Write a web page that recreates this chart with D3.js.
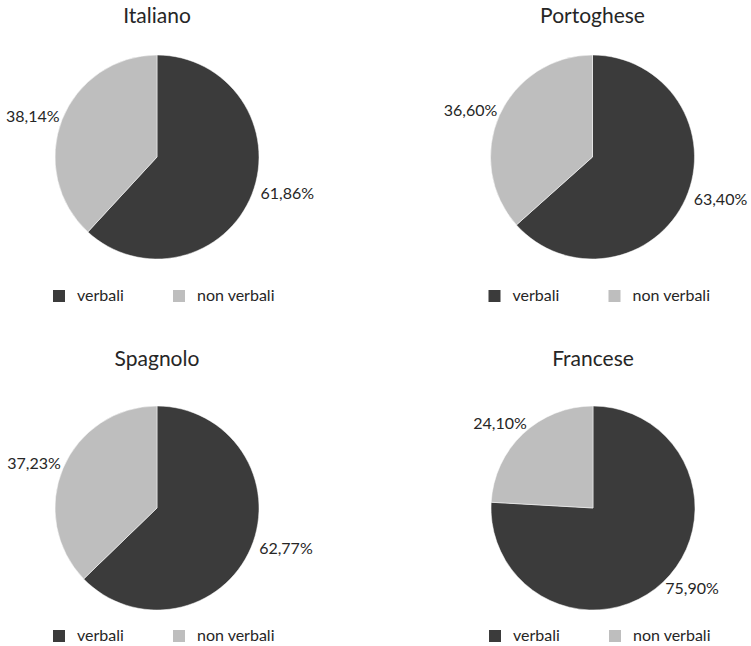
<!DOCTYPE html>
<html>
<head>
<meta charset="utf-8">
<script src="https://cdn.jsdelivr.net/npm/d3@7"></script>
<style>
  html, body { margin: 0; padding: 0; background: #fff; }
  svg { display: block; }
  text { font-family: Lato, "Open Sans", sans-serif; fill: #262626; }
</style>
</head>
<body>
<div id="chart"></div>
<script>
// ---- data ----
const languages = ["Italiano", "Portoghese", "Spagnolo", "Francese"];
const categories = ["verbali", "non verbali"];
const verbali    = [61.86, 63.40, 62.77, 75.90];
const nonVerbali = [38.14, 36.60, 37.23, 24.10];
const colors = ["#3b3b3b", "#bebebe"];

const W = 751, H = 646;
const svg = d3.select("#chart").append("svg").attr("width", W).attr("height", H);

const fmt = v => d3.format(".2f")(v).replace(".", ",") + "%";

// panel layout: pie centre, title baseline offset, legend offset
const panels = [
  {cx: 157,   cy: 157, titleDy: -134, legendDy: 133},
  {cx: 592.5, cy: 157, titleDy: -134, legendDy: 133},
  {cx: 157,   cy: 508, titleDy: -142, legendDy: 122},
  {cx: 593,   cy: 508, titleDy: -142, legendDy: 122}
];
const R = 102;

const color = d3.scaleOrdinal().domain(categories).range(colors);
const pie = d3.pie().sort(null).value(d => d.value);
const arc = d3.arc().innerRadius(0).outerRadius(R);

languages.forEach((lang, i) => {
  const data = [
    {cat: categories[0], value: verbali[i]},
    {cat: categories[1], value: nonVerbali[i]}
  ];
  const p = panels[i];
  const g = svg.append("g").attr("transform", `translate(${p.cx},${p.cy})`);

  // title
  g.append("text")
    .attr("x", 0).attr("y", p.titleDy)
    .attr("text-anchor", "middle")
    .style("font-size", "21px")
    .text(lang);

  const arcs = pie(data);
  g.selectAll("path.slice").data(arcs).enter().append("path")
    .attr("class", "slice")
    .attr("d", arc)
    .attr("fill", d => color(d.data.cat))
    .attr("stroke", "#fff")
    .attr("stroke-width", 0.5);

  // labels (outside end)
  const labels = g.selectAll("text.lbl").data(arcs).enter().append("text")
    .attr("class", "lbl")
    .attr("text-anchor", "middle")
    .style("font-size", "16px")
    .text(d => fmt(d.data.value));
  labels.each(function(d) {
    const bb = this.getBBox();
    const a = (d.startAngle + d.endAngle) / 2 - 2 * Math.PI / 180;
    const dx = Math.sin(a), dy = -Math.cos(a);
    const rr = R + 6;
    const x = dx * rr + dx * bb.width / 2 + 3;
    const y = dy * rr + dy * bb.height / 2 - 2;
    d3.select(this).attr("x", x).attr("y", y + 5.5);
  });

  // legend
  const leg = g.append("g").attr("transform", `translate(0, ${p.legendDy})`);
  const legX = [-104, 16];
  categories.forEach((c, k) => {
    leg.append("rect")
      .attr("x", legX[k]).attr("y", 0)
      .attr("width", 12).attr("height", 12)
      .attr("fill", color(c));
    leg.append("text")
      .attr("x", legX[k] + 24).attr("y", 11)
      .style("font-size", "16px")
      .text(c);
  });
});
</script>
</body>
</html>
